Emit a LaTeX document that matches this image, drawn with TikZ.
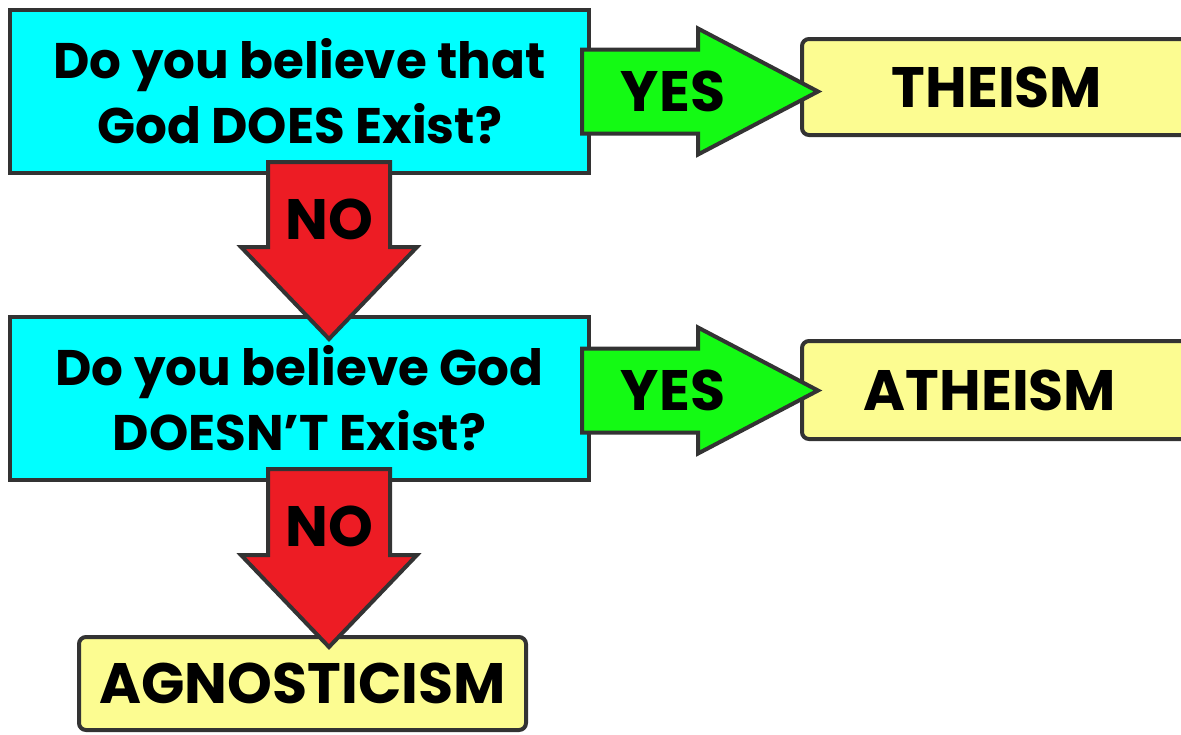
\documentclass[tikz,border=0pt]{standalone}
\usepackage{fontspec}
\setmainfont{Poppins}
\usetikzlibrary{calc, positioning}

\definecolor{qcyan}{RGB}{0,255,255}
\definecolor{ansyellow}{RGB}{252,252,145}
\definecolor{yesgreen}{RGB}{20,250,20}
\definecolor{nored}{RGB}{237,28,36}
\definecolor{edge}{RGB}{51,51,51}

\begin{document}
\begin{tikzpicture}[x=1pt, y=-1pt,
  every node/.style={font=\bfseries\fontsize{57}{65}\selectfont},
  qbox/.style={draw=edge, line width=4pt, fill=qcyan, minimum width=579pt, minimum height=163pt, inner sep=0pt, align=center,
    font=\bfseries\fontsize{50}{65}\selectfont},
  ansbox/.style={draw=edge, line width=4pt, fill=ansyellow, rounded corners=7pt, inner sep=0pt},
  yesarrow/.style={draw=edge, line width=4pt, fill=yesgreen, line join=miter},
  noarrow/.style={draw=edge, line width=4pt, fill=nored, line join=miter},
  lbl/.style={inner sep=0pt}]

\clip (0,0) rectangle (1181,734);
\fill[white] (0,0) rectangle (1181,734);

% Questions
\node[qbox] (q1) at (299.5,91.5) {Do you believe that\\God DOES Exist?};
\node[qbox] (q2) at (299.5,398.5) {Do you believe God\\DOESN’T Exist?};

% Answers
\node[ansbox, minimum width=390pt, minimum height=96pt] (theism) at (997,87) {THEISM};
\node[ansbox, minimum width=390pt, minimum height=98pt] (atheism) at (997,390) {\hspace*{-14pt}ATHEISM};
\node[ansbox, minimum width=447pt, minimum height=93pt] (agnost) at (302.5,683.5) {AGNOSTICISM};

% YES arrows
\foreach \q/\r/\dy in {q1/theism/0, q2/atheism/-8} {
  \coordinate (ytail) at ($(\q.east)+(-9,\dy)$);
  \coordinate (ytip) at ($(ytail -| \r.west)+(18,0)$);
  \draw[yesarrow] ($(ytail)+(0,-42)$) -- ($(ytip)+(-120,-42)$) -- ($(ytip)+(-120,-63)$)
    -- (ytip) -- ($(ytip)+(-120,63)$) -- ($(ytip)+(-120,42)$) -- ($(ytail)+(0,42)$) -- cycle;
  \node[lbl] (yes\q) at ($(ytail)+(91,0)$) {YES};
}

% NO arrows
\foreach \a/\b/\d in {q1/q2/24, q2/agnost/12} {
  \coordinate (ntail) at ($(\a.south)+(29.5,-13)$);
  \coordinate (ntip) at ($(\b.north -| ntail)+(0,\d)$);
  \draw[noarrow] ($(ntail)+(-61,0)$) -- ($(ntip)+(-61,-92)$) -- ($(ntip)+(-88,-92)$)
    -- (ntip) -- ($(ntip)+(88,-92)$) -- ($(ntip)+(61,-92)$) -- ($(ntail)+(61,0)$) -- cycle;
  \node[lbl] (no\a) at ($(ntail)+(0,57)$) {NO};
}

\end{tikzpicture}
\end{document}
